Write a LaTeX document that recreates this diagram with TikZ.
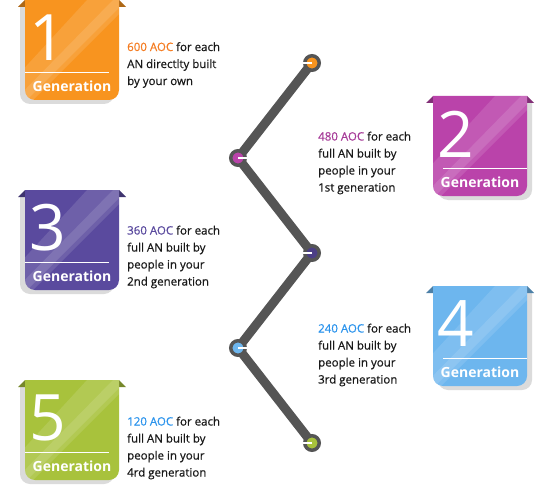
\documentclass[tikz,border=0pt]{standalone}
\usepackage{fontspec}
\setmainfont{Open Sans}
\newfontfamily\infofont{Open Sans}[FakeBold=0.6]
\usetikzlibrary{backgrounds}
\definecolor{genorange}{HTML}{F8941F}
\definecolor{genmagenta}{HTML}{BA43AA}
\definecolor{genpurple}{HTML}{5A4A9E}
\definecolor{genblue}{HTML}{6DB6EE}
\definecolor{gengreen}{HTML}{A8C23C}
\definecolor{aocorange}{HTML}{F47B20}
\definecolor{aocmagenta}{HTML}{A63B98}
\definecolor{aocblue}{HTML}{2B93EC}
\definecolor{zigzag}{HTML}{555555}
\tikzset{
  badge shadow/.style={fill=black!14},
  gen digit/.style={font=\fontsize{64}{64}\selectfont,text=white,inner sep=0pt},
  gen label/.style={font=\bfseries\fontsize{14}{14}\selectfont,text=white,inner sep=0pt},
  info text/.style={font=\infofont\fontsize{11.5}{17}\selectfont,align=left,anchor=west,
    inner sep=0pt,text=black!90},
  joint/.style={circle,draw=zigzag,line width=3.5pt,minimum size=14.5pt,inner sep=0pt},
  joint tick/.style={white,line width=1.3pt},
  zigzag line/.style={zigzag,line width=9pt,line join=round,line cap=round},
}

\begin{document}
\begin{tikzpicture}[x=1pt,y=-1pt]
  \useasboundingbox (0,0) rectangle (551,500);
  % badges: number / left / top / colour / side
  \foreach \n/\bx/\by/\bc/\sd in {1/25/0/genorange/-1,2/433/96/genmagenta/1,
      3/25/190/genpurple/-1,4/433/286/genblue/1,5/25/380/gengreen/-1}{
    \fill[badge shadow] (\bx+\sd*5,\by+7) -- (\bx+94+\sd*5,\by+7)
      [rounded corners=10pt] -- (\bx+94+\sd*5,\by+104) -- (\bx+\sd*5,\by+104)
      [sharp corners] -- cycle;
    \fill[\bc!70!black] (\bx,\by) -- (\bx-7,\by+7) -- (\bx,\by+7) -- cycle;
    \fill[\bc!70!black] (\bx+94,\by) -- (\bx+101,\by+7) -- (\bx+94,\by+7) -- cycle;
    \begin{scope}
      \clip (\bx,\by) -- (\bx+94,\by) [rounded corners=10pt] -- (\bx+94,\by+100)
        -- (\bx,\by+100) [sharp corners] -- cycle;
      \fill[\bc] (\bx-5,\by-5) rectangle (\bx+100,\by+105);
      \fill[white,opacity=.12] (\bx+62,\by) -- (\bx+100,\by) -- (\bx+100,\by+8)
        -- (\bx+8,\by+100) -- (\bx-30,\by+100) -- cycle;
      \fill[white,opacity=.12] (\bx+88,\by) -- (\bx+100,\by) -- (\bx+100,\by+2)
        -- (\bx+2,\by+100) -- (\bx-10,\by+100) -- cycle;
    \end{scope}
    \draw[white,line width=.8pt] (\bx+5+5*\sd,\by+72) -- (\bx+89+5*\sd,\by+72);
    \node[gen digit] (d\n) at (\bx+23,\by+38) {\n};
    \node[gen label] (g\n) at (\bx+47,\by+86) {Generation};
  }
  % joints on the zigzag
  \node[joint,fill=genorange] (j1) at (312,63) {};
  \node[joint,fill=genmagenta] (j2) at (238,158) {};
  \node[joint,fill=genpurple!85!black] (j3) at (312,253) {};
  \node[joint,fill=genblue] (j4) at (238,348) {};
  \node[joint,fill=gengreen] (j5) at (312,443) {};
  \begin{scope}[on background layer]
    \draw[zigzag line] (j1.center) -- (j2.center) -- (j3.center) -- (j4.center)
      -- (j5.center);
  \end{scope}
  \draw[joint tick] (j1.center) -- (j1.west);
  \draw[joint tick] (j2.center) -- (j2.east);
  \draw[joint tick] (j3.center) -- (j3.west);
  \draw[joint tick] (j4.center) -- (j4.east);
  \draw[joint tick] (j5.center) -- (j5.west);
  % texts
  \node[info text] (t1) at (127,65)
    {\textcolor{aocorange}{600 AOC} for each\\AN directlty built\\by your own};
  \node[info text] (t2) at (318,163)
    {\textcolor{aocmagenta}{480 AOC} for each\\full AN built by\\people in your\\1st generation};
  \node[info text] (t3) at (127,257)
    {\textcolor{genpurple}{360 AOC} for each\\full AN built by\\people in your\\2nd generation};
  \node[info text] (t4) at (318,355)
    {\textcolor{aocblue}{240 AOC} for each\\full AN built by\\people in your\\3rd generation};
  \node[info text] (t5) at (127,448)
    {\textcolor{aocblue}{120 AOC} for each\\full AN built by\\people in your\\4rd generation};
\end{tikzpicture}
\end{document}
